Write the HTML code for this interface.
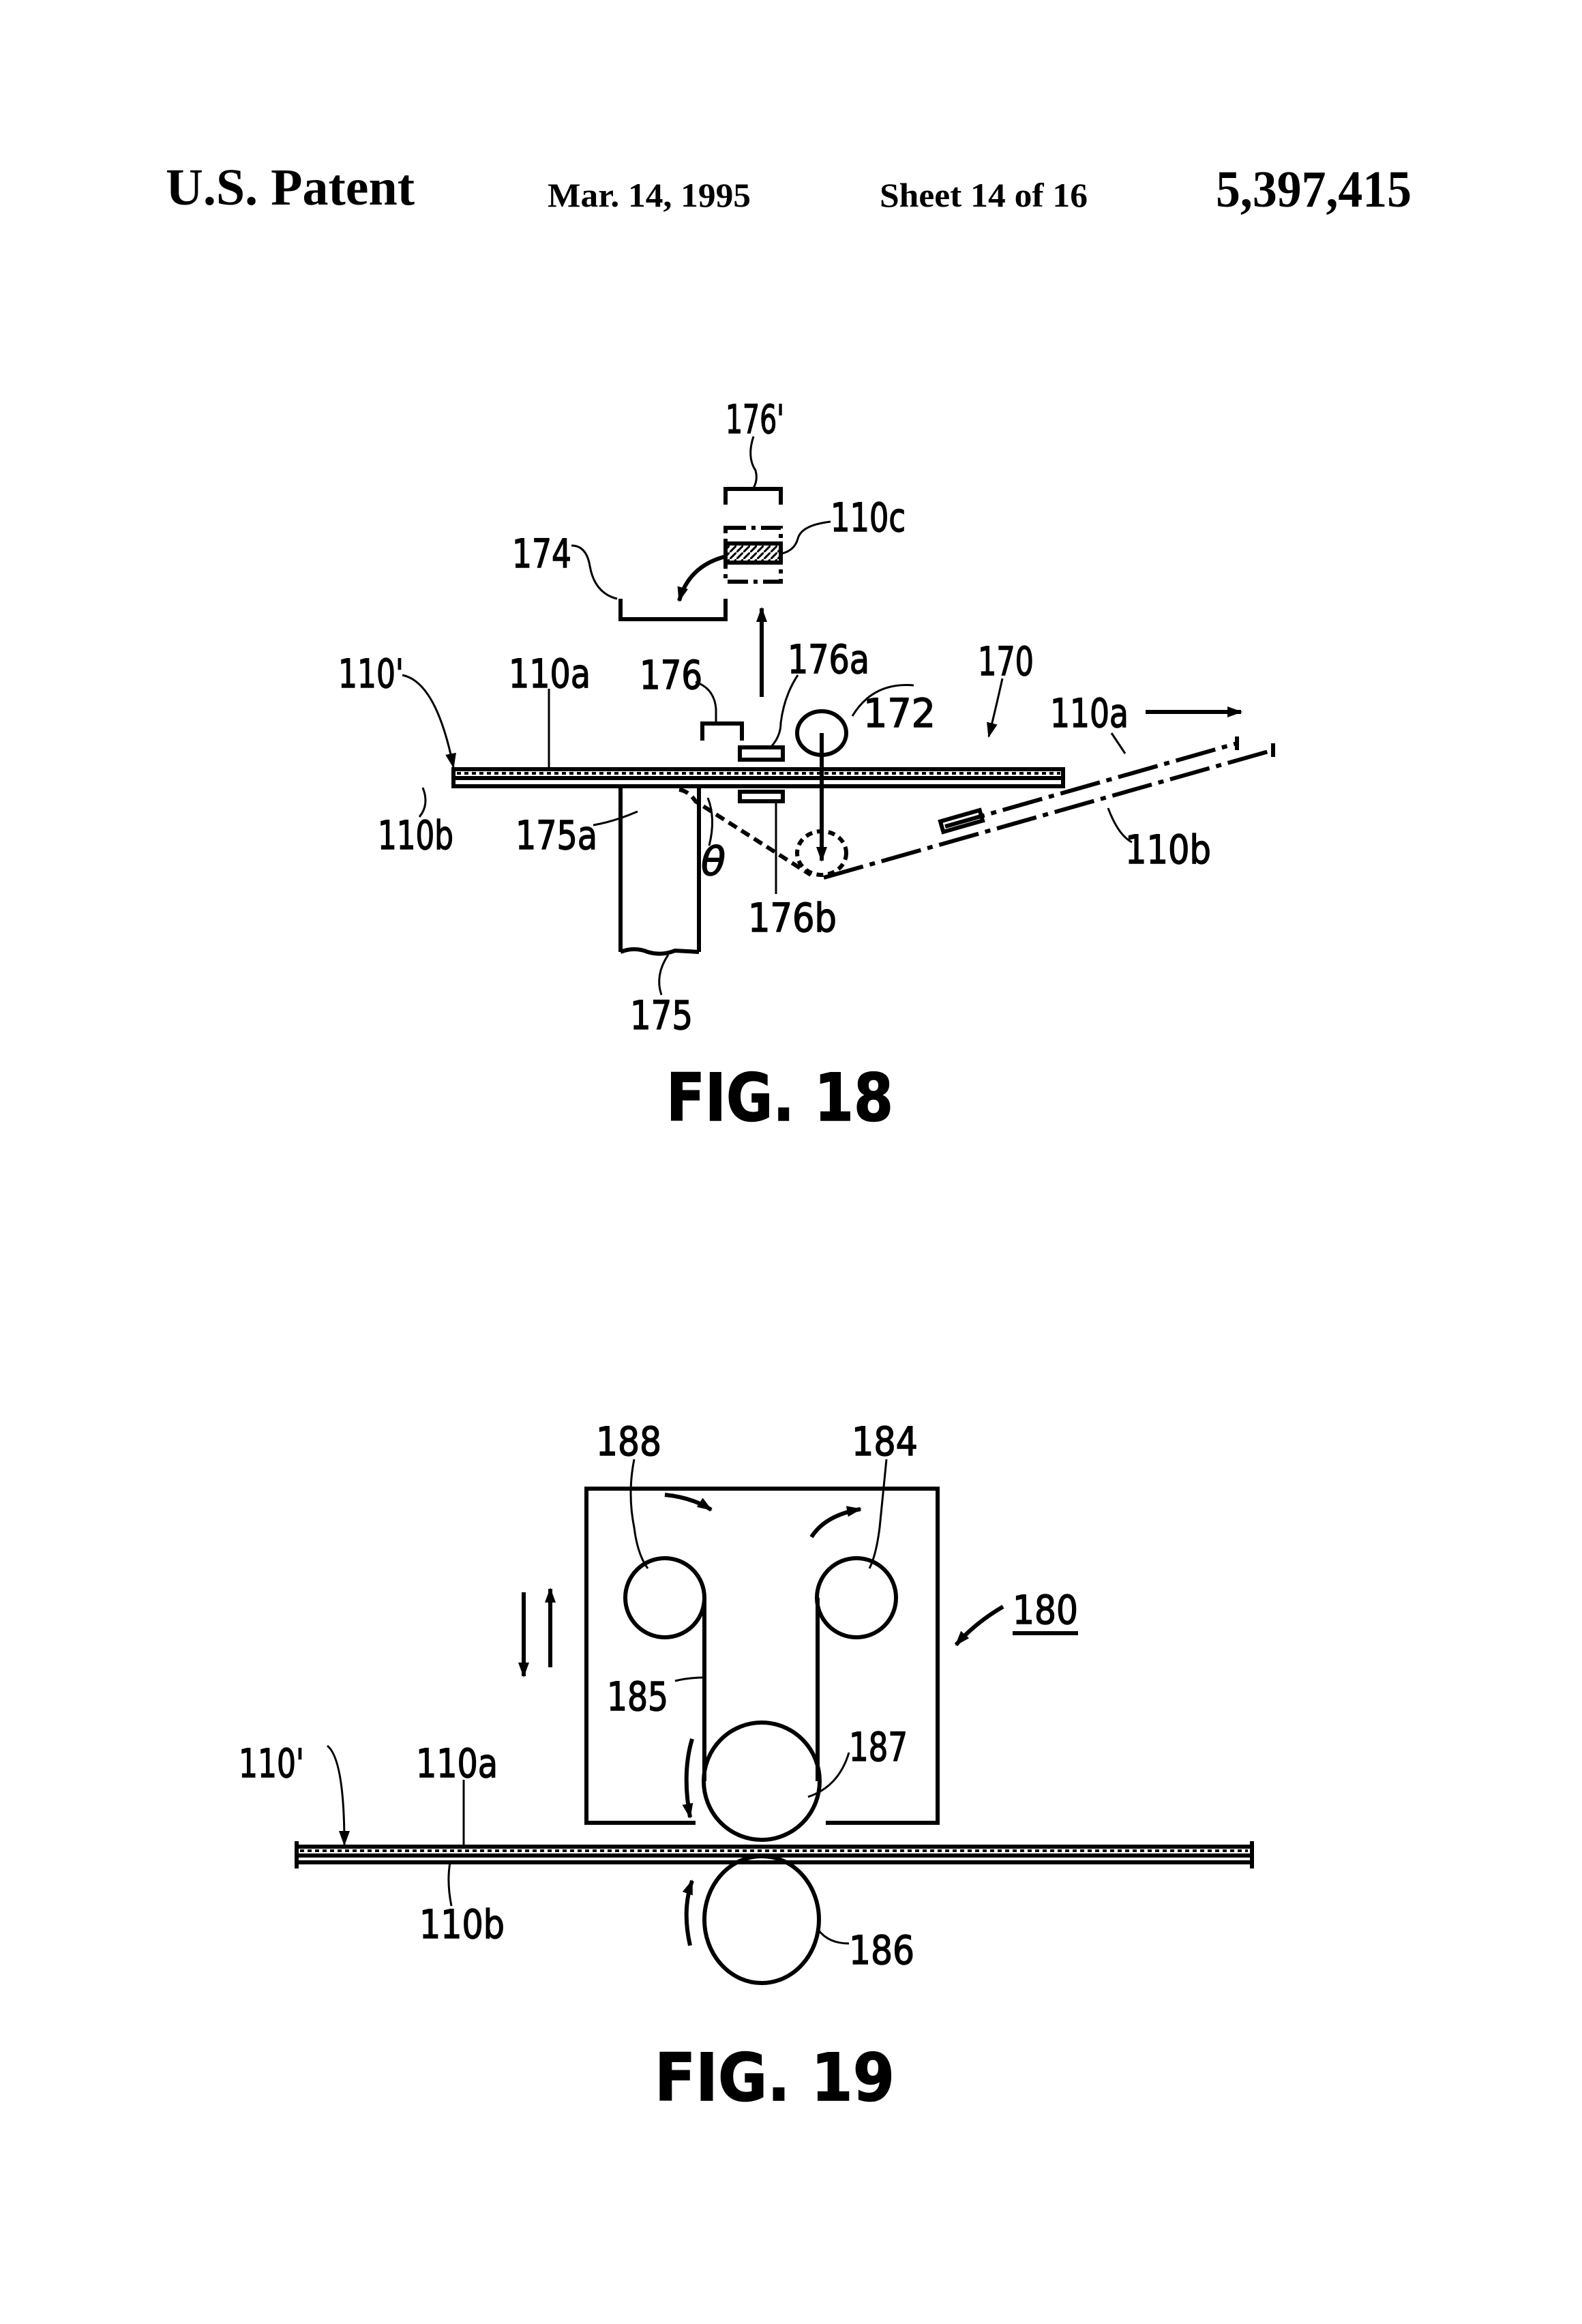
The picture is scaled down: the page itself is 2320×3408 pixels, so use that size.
<!DOCTYPE html>
<html><head><meta charset="utf-8"><style>html,body{margin:0;padding:0;background:#fff}svg{display:block}</style></head>
<body>
<svg width="2320" height="3408" viewBox="0 0 2320 3408" xmlns="http://www.w3.org/2000/svg">
<defs>
<marker id="ab" markerWidth="22" markerHeight="16" refX="20" refY="8" orient="auto" markerUnits="userSpaceOnUse"><path d="M0,0 L22,8 L0,16 z" fill="#000"/></marker>
<pattern id="hatch" width="10" height="10" patternUnits="userSpaceOnUse"><path d="M0,10 L10,0" stroke="#000" stroke-width="3"/></pattern>
</defs>
<g font-family="Liberation Serif, serif" font-weight="bold" fill="#000">
<text x="243" y="300" font-size="76" textLength="365" lengthAdjust="spacingAndGlyphs">U.S. Patent</text>
<text x="803" y="303" font-size="50" textLength="298" lengthAdjust="spacingAndGlyphs">Mar. 14, 1995</text>
<text x="1290" y="303" font-size="50" textLength="305" lengthAdjust="spacingAndGlyphs">Sheet 14 of 16</text>
<text x="1783" y="303" font-size="76" textLength="287" lengthAdjust="spacingAndGlyphs">5,397,415</text>
</g>
<g fill="none" stroke="#000" stroke-width="6">
<!-- FIG 18 -->
<path d="M1064,740 V717 H1145 V740"/>
<rect x="1064" y="774" width="81" height="79" stroke-dasharray="30,8,6,8"/>
<rect x="1064" y="797" width="81" height="28" fill="url(#hatch)"/>
<path d="M910,878 V908 H1064 V878"/>
<path d="M1064,816 Q1010,830 996,881" marker-end="url(#ab)"/>
<path d="M1117,1022 V892" marker-end="url(#ab)"/>
<rect x="665" y="1128" width="894" height="25"/>
<line x1="665" y1="1141" x2="1559" y2="1141"/>
<line x1="670" y1="1134" x2="1555" y2="1134" stroke-width="4" stroke-dasharray="6,5"/>
<path d="M910,1153 V1396 M1025,1153 V1396 M910,1396 Q930,1388 950,1396 Q970,1402 990,1394 L1025,1396"/>
<path d="M1030,1086 V1061 H1088 V1086"/>
<rect x="1085" y="1096" width="63" height="18"/>
<rect x="1085" y="1161" width="63" height="14"/>
<ellipse cx="1205" cy="1075" rx="36" ry="32"/>
<ellipse cx="1205" cy="1251" rx="36" ry="32" stroke-dasharray="10,7"/>
<path d="M1205,1075 V1262" marker-end="url(#ab)"/>
<path d="M996,1158 Q1010,1160 1020,1175 L1189,1283" stroke-dasharray="14,8"/>
<path d="M1208,1287 L1867,1100" stroke-dasharray="60,10,8,10"/>
<path d="M1386,1212 L1814,1090" stroke-dasharray="60,10,8,10"/>
<rect x="1380" y="1196" width="60" height="16" transform="rotate(-16 1410 1204)"/>
<path d="M1814,1080 V1100 M1867,1090 V1110"/>
<path d="M1680,1044 H1820" marker-end="url(#ab)"/>
<path d="M1040,1240 Q1050,1200 1038,1170" stroke-width="3"/>
<g stroke-width="3">
<path d="M1105,640 Q1095,670 1108,690 Q1112,705 1104,717"/>
<path d="M1218,765 Q1175,770 1170,790 Q1165,808 1145,812"/>
<path d="M838,800 Q860,800 865,830 Q872,870 905,878"/>
<path d="M590,990 Q640,1000 665,1125" marker-end="url(#ab)"/>
<path d="M805,1010 V1128"/>
<path d="M1020,1000 Q1048,1010 1050,1040 V1061"/>
<path d="M1170,990 Q1150,1020 1145,1060 Q1145,1080 1130,1096"/>
<path d="M1340,1005 Q1280,1000 1250,1050"/>
<path d="M1470,995 Q1460,1040 1450,1080" marker-end="url(#ab)"/>
<path d="M1630,1075 Q1640,1090 1650,1105"/>
<path d="M615,1198 Q630,1180 620,1155"/>
<path d="M870,1210 Q900,1205 935,1190"/>
<path d="M1138,1311 V1175"/>
<path d="M1660,1235 Q1640,1225 1625,1185"/>
<path d="M970,1459 Q960,1430 980,1400"/>
</g>
<!-- FIG 19 -->
<path d="M1020,2673 H860 V2183 H1375 V2673 H1211"/>
<circle cx="975" cy="2343" r="58"/>
<circle cx="1256" cy="2343" r="58"/>
<ellipse cx="1117" cy="2612" rx="85" ry="86"/>
<ellipse cx="1117" cy="2815" rx="84" ry="93"/>
<path d="M1033,2343 V2612 M1199,2343 V2612"/>
<rect x="435" y="2708" width="1401" height="23"/>
<line x1="435" y1="2721" x2="1836" y2="2721"/>
<line x1="440" y1="2714" x2="1830" y2="2714" stroke-width="4" stroke-dasharray="6,5"/>
<path d="M435,2700 V2740 M1836,2700 V2740"/>
<path d="M975,2192 Q1015,2196 1043,2214" marker-end="url(#ab)"/>
<path d="M1190,2254 Q1210,2222 1262,2213" marker-end="url(#ab)"/>
<path d="M768,2335 V2458" marker-end="url(#ab)"/>
<path d="M807,2445 V2330" marker-end="url(#ab)"/>
<path d="M1015,2550 Q1000,2600 1012,2665" marker-end="url(#ab)"/>
<path d="M1012,2853 Q1000,2800 1015,2758" marker-end="url(#ab)"/>
<path d="M1471,2356 Q1430,2380 1402,2412" marker-end="url(#ab)"/>
<path d="M1485,2395 H1581"/>
<g stroke-width="3">
<path d="M930,2140 Q920,2190 930,2240 Q935,2280 950,2300"/>
<path d="M1300,2140 Q1295,2190 1290,2240 Q1285,2280 1275,2300"/>
<path d="M990,2465 Q1010,2460 1033,2460"/>
<path d="M1245,2570 Q1230,2620 1185,2635"/>
<path d="M1245,2850 Q1215,2850 1200,2830"/>
<path d="M480,2560 Q505,2580 505,2705" marker-end="url(#ab)"/>
<path d="M680,2610 V2708"/>
<path d="M662,2795 Q655,2760 660,2731"/>
</g>
</g>
<g font-family="DejaVu Sans, Liberation Sans, sans-serif" font-size="58" fill="#000" stroke="#000" stroke-width="1.5">
<text x="1064" y="635" textLength="86" lengthAdjust="spacingAndGlyphs">176'</text>
<text x="1218" y="779" textLength="110" lengthAdjust="spacingAndGlyphs">110c</text>
<text x="751" y="832" textLength="87" lengthAdjust="spacingAndGlyphs">174</text>
<text x="496" y="1008" textLength="96" lengthAdjust="spacingAndGlyphs">110'</text>
<text x="746" y="1008" textLength="120" lengthAdjust="spacingAndGlyphs">110a</text>
<text x="938" y="1010" textLength="92" lengthAdjust="spacingAndGlyphs">176</text>
<text x="1155" y="987" textLength="120" lengthAdjust="spacingAndGlyphs">176a</text>
<text x="1434" y="990" textLength="82" lengthAdjust="spacingAndGlyphs">170</text>
<text x="1266" y="1066" textLength="106" lengthAdjust="spacingAndGlyphs">172</text>
<text x="1540" y="1066" textLength="115" lengthAdjust="spacingAndGlyphs">110a</text>
<text x="554" y="1245" textLength="111" lengthAdjust="spacingAndGlyphs">110b</text>
<text x="756" y="1245" textLength="120" lengthAdjust="spacingAndGlyphs">175a</text>
<text x="1028" y="1283" font-style="italic" textLength="36" lengthAdjust="spacingAndGlyphs">θ</text>
<text x="1097" y="1366" textLength="130" lengthAdjust="spacingAndGlyphs">176b</text>
<text x="1650" y="1266" textLength="126" lengthAdjust="spacingAndGlyphs">110b</text>
<text x="924" y="1509" textLength="92" lengthAdjust="spacingAndGlyphs">175</text>
<text x="977" y="1643" font-size="96" font-weight="bold" textLength="333" lengthAdjust="spacingAndGlyphs">FIG. 18</text>
<text x="874" y="2134" textLength="96" lengthAdjust="spacingAndGlyphs">188</text>
<text x="1249" y="2134" textLength="97" lengthAdjust="spacingAndGlyphs">184</text>
<text x="1485" y="2381" textLength="96" lengthAdjust="spacingAndGlyphs">180</text>
<text x="890" y="2508" textLength="90" lengthAdjust="spacingAndGlyphs">185</text>
<text x="1245" y="2582" textLength="86" lengthAdjust="spacingAndGlyphs">187</text>
<text x="1245" y="2880" textLength="96" lengthAdjust="spacingAndGlyphs">186</text>
<text x="350" y="2606" textLength="96" lengthAdjust="spacingAndGlyphs">110'</text>
<text x="610" y="2606" textLength="120" lengthAdjust="spacingAndGlyphs">110a</text>
<text x="615" y="2842" textLength="125" lengthAdjust="spacingAndGlyphs">110b</text>
<text x="960" y="3080" font-size="96" font-weight="bold" textLength="352" lengthAdjust="spacingAndGlyphs">FIG. 19</text>
</g>
</svg>
</body></html>
